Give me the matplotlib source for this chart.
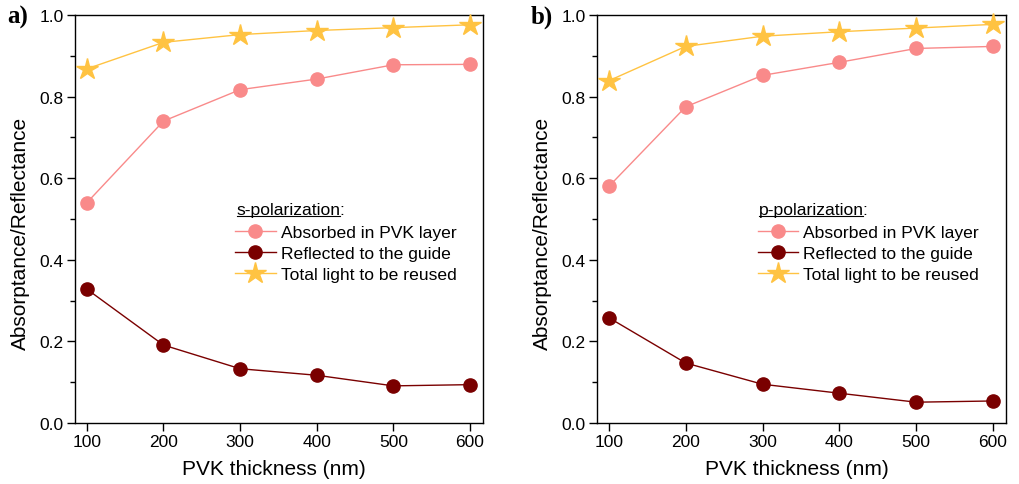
import matplotlib
matplotlib.use("Agg")
import matplotlib.pyplot as plt
from matplotlib.lines import Line2D
from matplotlib.ticker import MultipleLocator

plt.rcParams['font.family'] = ['Liberation Sans', 'DejaVu Sans']

thickness = [100, 200, 300, 400, 500, 600]

s_absorbed = [0.540, 0.740, 0.817, 0.843, 0.878, 0.879]
s_reflected = [0.328, 0.191, 0.133, 0.117, 0.091, 0.094]
s_total = [0.868, 0.933, 0.952, 0.962, 0.969, 0.976]

p_absorbed = [0.580, 0.775, 0.852, 0.884, 0.918, 0.923]
p_reflected = [0.258, 0.147, 0.095, 0.073, 0.051, 0.054]
p_total = [0.839, 0.923, 0.948, 0.959, 0.968, 0.977]

labels = ["Absorbed in PVK layer", "Reflected to the guide", "Total light to be reused"]
panel_titles = ["s-polarization", "p-polarization"]
panel_letters = ["a)", "b)"]

c_abs = "#F98A8A"
c_ref = "#7A0000"
c_tot = "#FFC342"

W, H = 1019, 485
fig = plt.figure(figsize=(W / 100, H / 100), dpi=100)

axes_px = [(75, 16, 483, 424), (597, 16, 1006, 424)]
letter_px = [(7, 24), (531, 24)]

LEG_FS = 12.6

data = [(s_absorbed, s_reflected, s_total), (p_absorbed, p_reflected, p_total)]
title_texts = []
for i, (l, t, r, b) in enumerate(axes_px):
    ax = fig.add_axes([l / W, (H - b) / H, (r - l) / W, (b - t) / H])
    ab, rf, tt = data[i]
    ax.plot(thickness, ab, '-o', color=c_abs, lw=1.0, ms=9.5, label=labels[0], clip_on=False, zorder=3)
    ax.plot(thickness, rf, '-o', color=c_ref, lw=1.0, ms=9.5, label=labels[1], clip_on=False, zorder=3)
    ax.plot(thickness, tt, '-*', color=c_tot, lw=1.0, ms=16, label=labels[2], clip_on=False, zorder=4)
    ax.set_xlim(84.5, 617)
    ax.set_ylim(0, 1.0)
    ax.set_xticks(thickness)
    ax.yaxis.set_major_locator(MultipleLocator(0.2))
    ax.yaxis.set_minor_locator(MultipleLocator(0.1))
    ax.tick_params(axis='both', which='major', direction='out', length=5.5, width=1, labelsize=12.5, pad=2.5)
    ax.tick_params(axis='x', which='major', pad=2.5)
    ax.tick_params(axis='y', which='minor', direction='out', length=3.3, width=1)
    ax.yaxis.set_major_formatter(matplotlib.ticker.FormatStrFormatter('%.1f'))
    for sp in ax.spines.values():
        sp.set_linewidth(1.0)
    ax.set_xlabel("PVK thickness (nm)", fontsize=15)
    ax.set_ylabel("Absorptance/Reflectance", fontsize=15)
    ax.xaxis.set_label_coords(0.488, -0.088)
    ax.yaxis.set_label_coords(-0.111, 0.467)
    leg = ax.legend(loc='upper left', bbox_to_anchor=(0.393, 0.485), frameon=False,
                    fontsize=LEG_FS, handlelength=2.3, handletextpad=0.3, labelspacing=0.32,
                    borderpad=0, borderaxespad=0)
    ax.text(0.397, 0.523, panel_titles[i] + ":", transform=ax.transAxes, fontsize=LEG_FS,
            ha='left', va='center')
    meas = ax.text(0.397, 0.523, panel_titles[i], transform=ax.transAxes, fontsize=LEG_FS,
                   ha='left', va='center', alpha=0)
    title_texts.append((ax, meas))
    fig.text(letter_px[i][0] / W, 1 - letter_px[i][1] / H, panel_letters[i],
             fontsize=18, fontweight='bold', family='Liberation Serif', ha='left', va='baseline')

fig.canvas.draw()
renderer = fig.canvas.get_renderer()
for ax, tx in title_texts:
    bb = tx.get_window_extent(renderer)
    y = bb.y0 + 1.5
    fig.add_artist(Line2D([bb.x0 / W, (bb.x1 - 1) / W], [y / H, y / H], transform=fig.transFigure,
                          color='black', lw=0.8))

fig.savefig("out.png", dpi=100)
